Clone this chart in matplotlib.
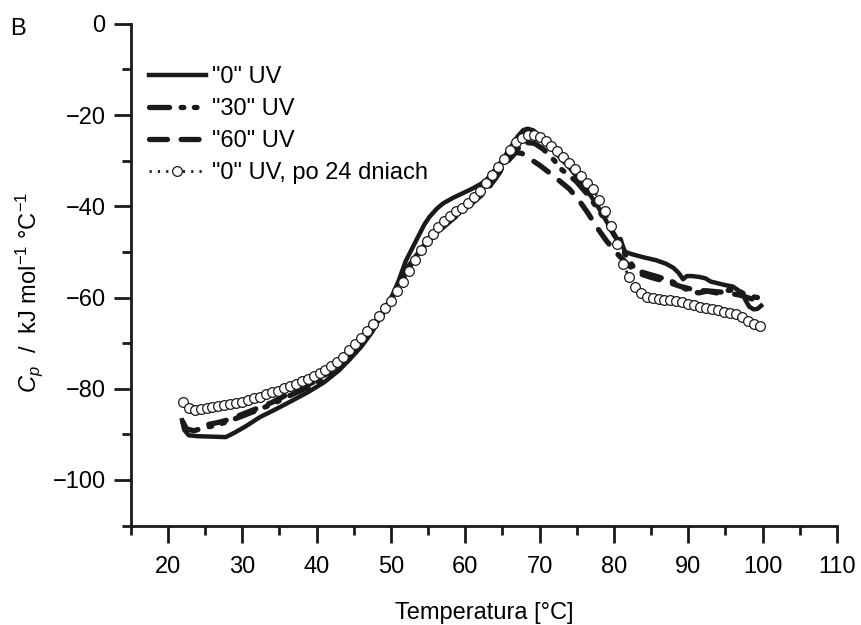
import matplotlib
matplotlib.use('Agg')
import matplotlib.pyplot as plt
from matplotlib.ticker import MultipleLocator

plt.rcParams['font.family'] = ['Liberation Sans', 'DejaVu Sans']
plt.rcParams['mathtext.fontset'] = 'custom'
plt.rcParams['mathtext.rm'] = 'Liberation Sans'
plt.rcParams['mathtext.it'] = 'Liberation Sans:italic'

# "0" UV (solid)
t0 = [21.9, 22.2, 22.8, 24, 26, 27.8, 29, 30.5, 32.4, 34.5, 36.5, 39, 41, 43, 44.5,
      46, 47.5, 49, 50.2, 51, 52, 53.4, 54.5, 55.2, 56.2, 57, 58.3, 59.6, 61, 62,
      62.8, 64, 65, 66, 67, 67.8, 68.4, 69.2, 70, 71, 72, 73, 74, 75, 76, 77, 78,
      79, 80, 80.5, 80.9, 81.2, 81.5, 82.4, 84, 85.6, 87, 88, 88.7, 89.3, 89.8,
      90.5, 91.5, 92.3, 93, 94, 95, 96, 96.7, 97.2, 97.7, 98.2, 98.8, 99.3, 99.8]
cp0 = [-86.9, -89.0, -90.2, -90.4, -90.5, -90.6, -89.6, -88.2, -86.2, -84.5, -82.8,
       -80.6, -78.6, -76.0, -73.5, -70.8, -67.5, -63.0, -59.5, -56.5, -52.0, -47.5,
       -44.0, -42.3, -40.5, -39.4, -38.2, -37.2, -36.1, -35.2, -34.3, -32.0, -29.9,
       -27.3, -24.8, -23.3, -23.0, -23.4, -24.8, -26.3, -28.0, -29.8, -31.5, -33.5,
       -35.6, -38.0, -40.5, -43.3, -46.3, -47.3, -47.2, -48.8, -50.0, -50.5, -51.2,
       -51.8, -52.6, -53.5, -54.6, -56.0, -55.3, -55.3, -55.5, -55.8, -56.5, -56.9,
       -57.3, -57.6, -58.4, -59.0, -60.6, -62.0, -62.6, -62.5, -61.8]

# "30" UV (dash-dot)
t30 = [22, 22.5, 23.5, 25, 26.5, 28, 30, 32, 34, 36, 38, 40, 42, 44, 46, 48, 50, 52,
       53.6, 55, 57, 59, 61, 63, 65, 66.5, 68, 69.3, 70.5, 72, 73, 74.9, 76.5, 78,
       79.5, 80.5, 81.5, 82.9, 84.5, 86, 87.8, 89, 90, 91.4, 92.5, 93.8, 95, 96.5,
       97.5, 98.5, 99.3]
cp30 = [-87.2, -88.8, -89.2, -88.5, -88.0, -87.2, -86.0, -84.7, -83.4, -81.8, -80.3,
        -78.8, -76.5, -73.8, -70.3, -65.8, -60.5, -54.0, -50.5, -47.5, -44.5, -41.5,
        -39.2, -36.3, -31.5, -28.2, -26.0, -26.2, -27.5, -30.0, -32.0, -34.5, -37.5,
        -41.0, -44.8, -47.5, -50.5, -54.0, -54.8, -55.5, -56.5, -57.6, -58.4, -59.0,
        -58.6, -59.0, -58.5, -58.3, -59.2, -59.8, -60.0]

# "60" UV (dashed)
t60 = [25.5, 27, 28.5, 30, 32, 34, 36, 38, 40, 42, 44, 46, 48, 50, 52, 54, 56, 58, 60,
       62, 64, 65.5, 66.8, 67.6, 68.6, 70, 71.2, 72.5, 74, 75.3, 76.5, 77.7, 79, 80.5,
       82, 83.5, 85, 87, 89, 91, 93, 95, 97, 98.5, 99.5]
cp60 = [-87.8, -87.3, -86.6, -85.6, -84.3, -83.0, -81.3, -79.8, -78.2, -76.0, -73.3,
        -70.0, -65.5, -60.5, -54.5, -49.5, -46.0, -43.2, -40.5, -37.8, -34.0, -30.5,
        -28.2, -28.4, -29.5, -31.0, -32.5, -34.2, -36.2, -38.7, -41.5, -44.6, -47.6,
        -50.5, -53.0, -54.8, -55.6, -56.5, -57.6, -58.4, -58.6, -58.9, -59.5, -60.3,
        -61.0]

# "0" UV, po 24 dniach (open circles)
t24 = [22.0, 22.8, 23.6, 24.4, 25.2, 26.0, 26.8, 27.6, 28.4, 29.2, 30.0, 30.8, 31.6,
       32.4, 33.2, 34.0, 34.8, 35.6, 36.4, 37.2, 38.0, 38.8, 39.6, 40.4, 41.2, 42.0,
       42.8, 43.6, 44.4, 45.2, 46.0, 46.8, 47.6, 48.4, 49.2, 50.0, 50.8, 51.6, 52.4,
       53.2, 54.0, 54.8, 55.6, 56.4, 57.2, 58.0, 58.8, 59.6, 60.4, 61.2, 62.0, 62.8,
       63.6, 64.4, 65.2, 66.0, 66.8, 67.6, 68.4, 69.2, 70.0, 70.8, 71.6, 72.4, 73.2,
       74.0, 74.8, 75.6, 76.4, 77.2, 78.0, 78.8, 79.6, 80.4, 81.2, 82.0, 82.8, 83.6,
       84.4, 85.2, 86.0, 86.8, 87.6, 88.4, 89.2, 90.0, 90.8, 91.6, 92.4, 93.2, 94.0,
       94.8, 95.6, 96.4, 97.2, 98.0, 98.8, 99.6]
cp24 = [-82.9, -84.3, -84.7, -84.5, -84.3, -84.0, -83.8, -83.6, -83.4, -83.2, -82.9,
        -82.5, -82.1, -81.7, -81.2, -80.8, -80.4, -79.9, -79.4, -78.9, -78.3, -77.8,
        -77.2, -76.5, -75.8, -75.0, -74.1, -73.0, -71.6, -70.3, -68.9, -67.4, -65.8,
        -64.0, -62.4, -60.8, -58.6, -56.5, -54.2, -51.8, -49.6, -47.7, -46.0, -44.5,
        -43.2, -42.1, -41.1, -40.3, -39.2, -38.0, -36.7, -35.0, -33.2, -31.4, -29.6,
        -27.7, -26.0, -25.0, -24.4, -24.3, -24.8, -25.6, -26.7, -27.9, -29.2, -30.5,
        -31.9, -33.3, -34.8, -36.3, -38.6, -41.1, -44.4, -48.3, -52.6, -55.4, -57.7,
        -59.0, -59.8, -60.1, -60.3, -60.5, -60.6, -60.8, -61.0, -61.4, -61.7, -62.0,
        -62.2, -62.5, -62.8, -63.1, -63.3, -63.7, -64.3, -65.1, -65.8, -66.2]

labels = ['"0" UV', '"30" UV', '"60" UV', '"0" UV, po 24 dniach']

fig = plt.figure(figsize=(8.61, 6.25), dpi=100)
ax = fig.add_axes([0.1518, 0.159, 0.8203, 0.803])

ax.plot(t0, cp0, color='#1a1a1a', lw=3.2, solid_joinstyle='round', label=labels[0])
ax.plot(t30, cp30, color='#1a1a1a', lw=3.8, dashes=(3.8, 2.2, 0.5, 2.0, 0.5, 2.2),
        dash_capstyle='round', label=labels[1])
ax.plot(t60, cp60, color='#1a1a1a', lw=3.8, dashes=(3.4, 2.6),
        dash_capstyle='round', label=labels[2])
ax.plot(t24, cp24, color='#1a1a1a', lw=2.0, ls=(0, (0.8, 2.2)), marker='o', ms=7,
        mfc='white', mec='#1a1a1a', mew=0.9, label=labels[3])

ax.set_xlim(15, 110)
ax.set_ylim(-110, 0)
ax.xaxis.set_minor_locator(MultipleLocator(5))
ax.yaxis.set_minor_locator(MultipleLocator(10))
ax.set_xticks(range(20, 111, 10))
ax.set_yticks(range(-100, 1, 20))

for s in ['top', 'right']:
    ax.spines[s].set_visible(False)
for s in ['left', 'bottom']:
    ax.spines[s].set_linewidth(2.0)
    ax.spines[s].set_color('#1a1a1a')
ax.tick_params(which='major', direction='out', length=12, width=2.0, color='#1a1a1a',
               labelsize=17, pad=6)
ax.tick_params(which='minor', direction='out', length=6.5, width=2.0, color='#1a1a1a')
ax.tick_params(axis='x', which='major', pad=10)

ax.set_xlabel('Temperatura [°C]', fontsize=17, labelpad=17)
ax.set_ylabel(r'$C_p$  /  kJ mol$^{-1}$ °C$^{-1}$', fontsize=17)
ax.yaxis.set_label_coords(-0.122, 0.465)

leg = ax.legend(loc='upper left', bbox_to_anchor=(0.026, 0.915), frameon=False,
                fontsize=17, handlelength=2.4, handletextpad=0.25, labelspacing=0.42,
                borderpad=0, borderaxespad=0, numpoints=1)

fig.text(0.012, 0.944, 'B', fontsize=17)

fig.savefig('out.png', dpi=100)
